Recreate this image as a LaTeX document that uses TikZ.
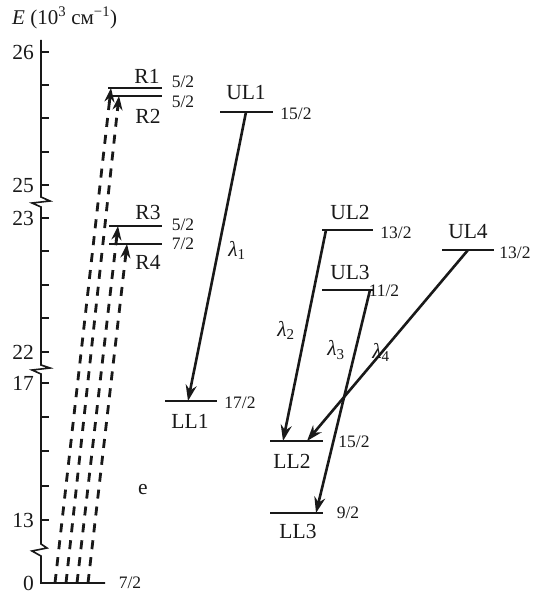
\documentclass[tikz,border=0pt]{standalone}
\usepackage{fontspec}
\setmainfont{Liberation Serif}
\usetikzlibrary{arrows.meta,calc}
\definecolor{inkBlack}{RGB}{25, 25, 25}

\begin{document}
\begin{tikzpicture}[x=1pt, y=-1pt, line join=miter,
    axisline/.style={draw=inkBlack, line width=1.6pt},
    lvl/.style={draw=inkBlack, line width=1.8pt},
    trans/.style={draw=inkBlack, line width=2.6pt, -{Stealth[length=16pt,width=11pt]}},
    pump/.style={draw=inkBlack, line width=2.8pt, dash pattern=on 9pt off 8pt},
    pumptip/.style={draw=inkBlack, line width=2.8pt, -{Stealth[length=14pt,width=10pt]}},
    tag/.style={text=inkBlack, inner sep=0pt, font=\fontsize{21.5}{21.5}\selectfont},
    spin/.style={text=inkBlack, inner sep=0pt, font=\fontsize{17.5}{17.5}\selectfont},
    tick/.style={text=inkBlack, inner sep=0pt, anchor=east, font=\fontsize{21.5}{21.5}\selectfont}]
  \useasboundingbox (0,0) rectangle (536,594);

  % energy axis with breaks
  \draw[axisline] (41,40) -- (41,197) -- (50,201) -- (32,203) -- (41,207)
    -- (41,365) -- (50,368) -- (32,370) -- (41,374)
    -- (41,544) -- (47,548) -- (32,551) -- (41,556)
    -- (41,583) -- (105,583);
  \foreach \y in {52,85,118,152,185,218,251,285,318,352,383,417,451,486,520}
    \draw[axisline] (41,\y) -- (49,\y);
  \node[tick] (t26) at (34,52) {26};
  \node[tick] (t25) at (34,185) {25};
  \node[tick] (t23) at (34,218) {23};
  \node[tick] (t22) at (34,352) {22};
  \node[tick] (t17) at (34,383) {17};
  \node[tick] (t13) at (34,520) {13};
  \node[tick] (t0) at (34,583) {0};
  \node[tick, anchor=west, font=\fontsize{21}{21}\selectfont] (elabel) at (12,18)
    {\textit{E} (10\textsuperscript{3} см\textsuperscript{−1})};

  % ground level
  \coordinate (g1) at (55,583);
  \coordinate (g2) at (66,583);
  \coordinate (g3) at (77,583);
  \coordinate (g4) at (88,583);
  \node[spin] (jg) at (130,583) {7/2};

  % R levels
  \draw[lvl] (108,88) -- (162,88);
  \draw[lvl] (108,96) -- (162,96);
  \draw[lvl] (109,226) -- (162,226);
  \draw[lvl] (109,244) -- (162,244);
  \coordinate (R1) at (111,88);
  \coordinate (R2) at (119,96);
  \coordinate (R3) at (118,226);
  \coordinate (R4) at (127,244);
  \node[tag] (nR1) at (147,76) {R1};
  \node[tag] (nR2) at (148,116) {R2};
  \node[tag] (nR3) at (148,212) {R3};
  \node[tag] (nR4) at (148,262) {R4};
  \node[spin] (jR1) at (183,82) {5/2};
  \node[spin] (jR2) at (183,102) {5/2};
  \node[spin] (jR3) at (183,225) {5/2};
  \node[spin] (jR4) at (183,244) {7/2};

  % upper emitting levels
  \draw[lvl] (220,112) -- (273,112);
  \draw[lvl] (322,230) -- (373,230);
  \draw[lvl] (322,290) -- (374,290);
  \draw[lvl] (442,250) -- (494,250);
  \coordinate (UL1) at (246,112);
  \coordinate (UL2) at (326,230);
  \coordinate (UL3) at (370,290);
  \coordinate (UL4) at (468,250);
  \node[tag] (nUL1) at (246,93) {UL1};
  \node[tag] (nUL2) at (350,212) {UL2};
  \node[tag] (nUL3) at (350,272) {UL3};
  \node[tag] (nUL4) at (468,232) {UL4};
  \node[spin] (jUL1) at (296,114) {15/2};
  \node[spin] (jUL2) at (396,233) {13/2};
  \node[spin] (jUL3) at (384,291) {11/2};
  \node[spin] (jUL4) at (515,253) {13/2};

  % lower levels
  \draw[lvl] (165,401) -- (217,401);
  \draw[lvl] (270,441) -- (323,441);
  \draw[lvl] (270,513) -- (323,513);
  \coordinate (LL1) at (188,401);
  \coordinate (LL2a) at (283,441);
  \coordinate (LL2b) at (307,441);
  \coordinate (LL3) at (316,513);
  \node[tag] (nLL1) at (190,421) {LL1};
  \node[tag] (nLL2) at (292,461) {LL2};
  \node[tag] (nLL3) at (298,531) {LL3};
  \node[spin] (jLL1) at (240,403) {17/2};
  \node[spin] (jLL2) at (354,442) {15/2};
  \node[spin] (jLL3) at (348,513) {9/2};

  % excitation
  \foreach \g/\r in {g1/R1, g2/R2, g3/R3, g4/R4} {
    \draw[pump] (\g) -- ($(\r)!12pt!(\g)$);
    \draw[pumptip] ($(\r)!15pt!(\g)$) -- (\r);
  }
  \node[tag] (ne) at (143,490) {e};

  % emission
  \draw[trans] (UL1) -- (LL1);
  \draw[trans] (UL2) -- (LL2a);
  \draw[trans] (UL3) -- (LL3);
  \draw[trans] (UL4) -- (LL2b);
  \node[tag] (l1) at (237,250) {\textit{λ}\textsubscript{1}};
  \node[tag] (l2) at (286,330) {\textit{λ}\textsubscript{2}};
  \node[tag] (l3) at (336,350) {\textit{λ}\textsubscript{3}};
  \node[tag] (l4) at (381,352) {\textit{λ}\textsubscript{4}};
\end{tikzpicture}
\end{document}
